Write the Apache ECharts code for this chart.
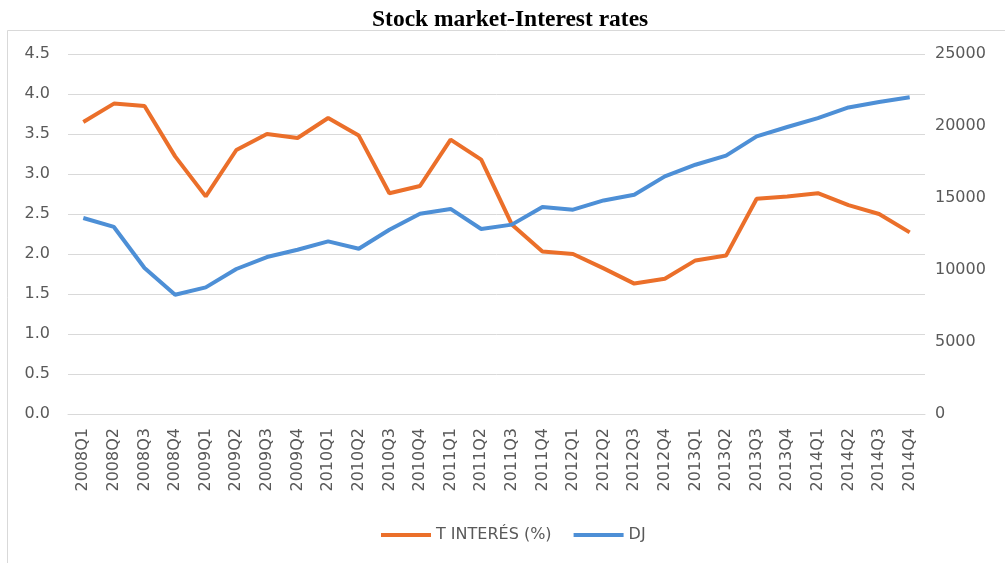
<!DOCTYPE html>
<html>
<head>
<meta charset="utf-8">
<script src="https://cdn.jsdelivr.net/npm/echarts@6/dist/echarts.min.js"></script>
<style>
html,body{margin:0;padding:0;background:#fff;}
#chart{width:1005px;height:563px;}
</style>
</head>
<body>
<div id="chart"></div>
<script>
const categories = ["2008Q1","2008Q2","2008Q3","2008Q4","2009Q1","2009Q2","2009Q3","2009Q4",
  "2010Q1","2010Q2","2010Q3","2010Q4","2011Q1","2011Q2","2011Q3","2011Q4",
  "2012Q1","2012Q2","2012Q3","2012Q4","2013Q1","2013Q2","2013Q3","2013Q4",
  "2014Q1","2014Q2","2014Q3","2014Q4"];
const interestRate = [3.65,3.88,3.85,3.22,2.72,3.30,3.50,3.45,
  3.70,3.48,2.76,2.85,3.43,3.18,2.37,2.03,
  2.00,1.82,1.63,1.69,1.92,1.98,2.69,2.72,
  2.76,2.61,2.50,2.27];
const dj = [13610,12990,10140,8285,8795,10070,10900,11410,
  11990,11480,12800,13910,14240,12850,13150,14375,
  14190,14830,15230,16500,17310,17940,19280,19930,
  20550,21290,21670,21990];
const leftTicks = {min:0, max:4.5, interval:0.5};
const rightTicks = {min:0, max:25000, interval:5000};

const chart = echarts.init(document.getElementById('chart'));
const labelColor = '#595959';
const gridColor = '#d9d9d9';
const font = 'DejaVu Sans';
chart.setOption({
  animation:false,
  backgroundColor:'#fff',
  title:{
    text:'Stock market-Interest rates',
    left:367, top:3,
    textStyle:{fontFamily:'Liberation Serif', fontWeight:'bold', fontSize:23.5, color:'#000'}
  },
  graphic:[{
    type:'rect', silent:true,
    shape:{x:7.5, y:30.5, width:1010, height:560},
    style:{fill:null, stroke:gridColor, lineWidth:1}
  }],
  legend:{
    top:522, left:376,
    icon:'rect', itemWidth:50, itemHeight:4, itemGap:22,
    textStyle:{color:labelColor, fontSize:16, fontFamily:font},
    data:['T INTERÉS (%)','DJ']
  },
  grid:{left:68, right:80, top:54, bottom:149},
  xAxis:{
    type:'category', data:categories, boundaryGap:true,
    axisLine:{lineStyle:{color:gridColor}},
    axisTick:{show:false},
    axisLabel:{rotate:90, color:labelColor, fontSize:16, fontFamily:font, margin:14, interval:0}
  },
  yAxis:[{
    type:'value', min:leftTicks.min, max:leftTicks.max, interval:leftTicks.interval,
    axisLine:{show:false}, axisTick:{show:false},
    splitLine:{lineStyle:{color:gridColor, width:1}},
    axisLabel:{color:labelColor, fontSize:16, fontFamily:font, margin:18,
      formatter:v=>v.toFixed(1)}
  },{
    type:'value', min:rightTicks.min, max:rightTicks.max, interval:rightTicks.interval,
    axisLine:{show:false}, axisTick:{show:false}, splitLine:{show:false},
    axisLabel:{color:labelColor, fontSize:16, fontFamily:font, margin:10,
      formatter:v=>String(v)}
  }],
  series:[{
    name:'T INTERÉS (%)', type:'line', yAxisIndex:0, data:interestRate,
    showSymbol:false, symbol:'none',
    lineStyle:{color:'#EB6F2A', width:4},
    itemStyle:{color:'#EB6F2A'}
  },{
    name:'DJ', type:'line', yAxisIndex:1, data:dj,
    showSymbol:false, symbol:'none',
    lineStyle:{color:'#4D8FD6', width:4},
    itemStyle:{color:'#4D8FD6'}
  }]
});
</script>
</body>
</html>
